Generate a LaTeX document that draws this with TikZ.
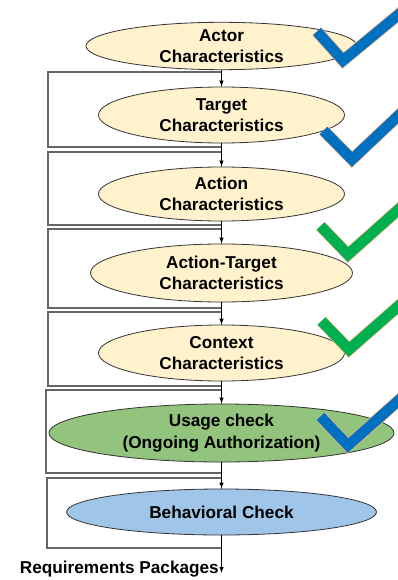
\documentclass[tikz,border=0pt]{standalone}
\usepackage{fontspec}
\setmainfont{Liberation Sans}
\usetikzlibrary{shapes.geometric,arrows.meta}
\definecolor{beige}{HTML}{FFF2CC}
\definecolor{usagegreen}{HTML}{93C47D}
\definecolor{behblue}{HTML}{9FC5E8}
\definecolor{chkblue}{HTML}{0070C0}
\definecolor{chkgreen}{HTML}{00B050}
\definecolor{chkedge}{HTML}{F4B183}
\tikzset{
  stage/.style={ellipse, draw=black!80, line width=0.8pt, inner sep=0pt, align=center,
    font=\fontsize{17.2}{21.5}\selectfont\bfseries},
  boxline/.style={draw=black!60, line width=1.1pt},
  flow/.style={draw=black, line width=0.8pt, -{Latex[length=6pt,width=4.5pt]}},
  chkoutline/.style={draw=chkedge, line width=12pt, miter limit=10, line join=miter},
  chkb/.style={draw=chkblue, line width=10.5pt, miter limit=10, line join=miter},
  chkg/.style={draw=chkgreen, line width=10.5pt, miter limit=10, line join=miter},
}
\begin{document}
\begin{tikzpicture}[x=1pt,y=-1pt]
\useasboundingbox (0,0) rectangle (398,580);
\clip (0,0) rectangle (398,580);
% boxes
\draw[boxline] (221.5,72) -- (48,72) -- (48,147) -- (221.5,147) -- cycle;
\draw[boxline] (221.5,152) -- (48,152) -- (48,225) -- (221.5,225) -- cycle;
\draw[boxline] (221.5,229) -- (48,229) -- (48,308) -- (221.5,308) -- cycle;
\draw[boxline] (221.5,312) -- (48,312) -- (48,386) -- (221.5,386) -- cycle;
\draw[boxline] (221.5,390) -- (46,390) -- (46,473) -- (221.5,473) -- cycle;
\draw[boxline] (221.5,478) -- (47,478) -- (47,548) -- (221.5,548) -- cycle;
% stages
\node[stage, fill=beige, minimum width=271pt, minimum height=44pt] (e1) at (221.5,46) {Actor\\Characteristics};
\node[stage, fill=beige, minimum width=246pt, minimum height=56pt] (e2) at (221.5,115) {Target\\Characteristics};
\node[stage, fill=beige, minimum width=246pt, minimum height=54pt] (e3) at (221.5,194) {Action\\Characteristics};
\node[stage, fill=beige, minimum width=262pt, minimum height=58pt] (e4) at (221.5,273) {Action-Target\\Characteristics};
\node[stage, fill=beige, minimum width=246pt, minimum height=56pt] (e5) at (221.5,353) {Context\\Characteristics};
\node[stage, fill=usagegreen, minimum width=345pt, minimum height=58pt] (e6) at (221.5,433) {Usage check\\(Ongoing Authorization)};
\node[stage, fill=behblue, minimum width=310pt, minimum height=46pt] (e7) at (221.5,512) {Behavioral Check};
\coordinate (out) at (221.5,573);
% flow arrows
\draw[flow] (e1.south) -- (e2.north);
\draw[flow] (e2.south) -- (e3.north);
\draw[flow] (e3.south) -- (e4.north);
\draw[flow] (e4.south) -- (e5.north);
\draw[flow] (e5.south) -- (e6.north);
\draw[flow] (e6.south) -- (e7.north);
\draw[flow] (e7.south) -- (out);
\node[anchor=base east, inner sep=0pt, font=\fontsize{17.2}{21.5}\selectfont\bfseries] (req) at (219,573) {Requirements Packages};
% check marks
\draw[chkoutline] (317,31.5) -- (343,60.5) -- (410,5.1);
\draw[chkb] (317,31.5) -- (343,60.5) -- (410,5.1);
\draw[chkoutline] (323.5,130.5) -- (352,159.5) -- (410,104.7);
\draw[chkb] (323.5,130.5) -- (352,159.5) -- (410,104.7);
\draw[chkoutline] (320.5,226) -- (348,254.5) -- (410,199.3);
\draw[chkg] (320.5,226) -- (348,254.5) -- (410,199.3);
\draw[chkoutline] (321.5,321) -- (349,349.5) -- (410,296);
\draw[chkg] (321.5,321) -- (349,349.5) -- (410,296);
\draw[chkoutline] (320.5,416.5) -- (348,445.5) -- (410,390.3);
\draw[chkb] (320.5,416.5) -- (348,445.5) -- (410,390.3);
\end{tikzpicture}
\end{document}
